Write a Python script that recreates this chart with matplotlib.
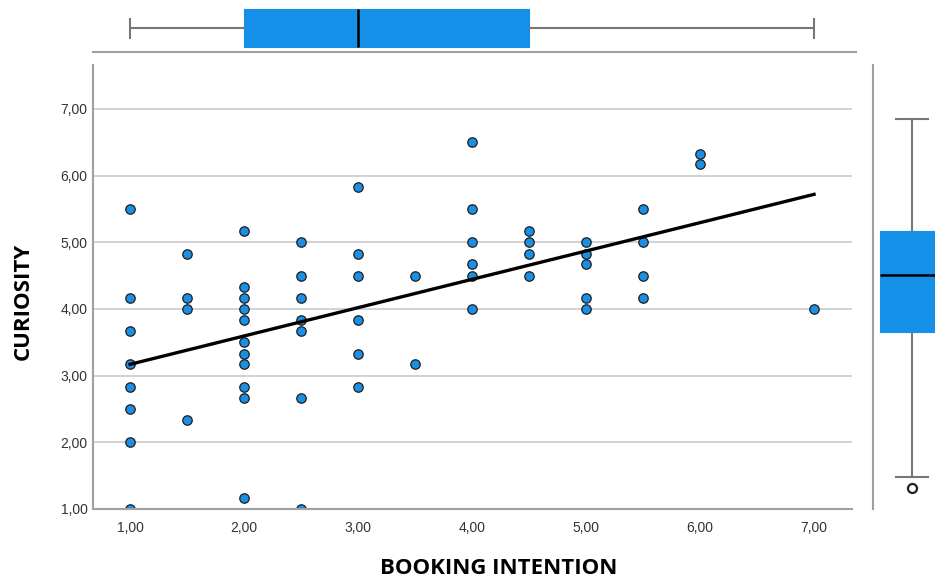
import numpy as np
import matplotlib
matplotlib.use("Agg")
import matplotlib.pyplot as plt

# scatter data: booking intention (x) vs curiosity (y)
booking = [1, 1, 1, 1, 1, 1, 1, 1,
           1.5, 1.5, 1.5, 1.5,
           2, 2, 2, 2, 2, 2, 2, 2, 2, 2, 2,
           2.5, 2.5, 2.5, 2.5, 2.5, 2.5, 2.5,
           3, 3, 3, 3, 3, 3,
           3.5, 3.5,
           4, 4, 4, 4, 4, 4,
           4.5, 4.5, 4.5, 4.5,
           5, 5, 5, 5, 5,
           5.5, 5.5, 5.5, 5.5,
           6, 6,
           7]
curiosity = [5.5, 4.17, 3.67, 3.17, 2.83, 2.5, 2.0, 1.0,
             4.83, 4.17, 4.0, 2.33,
             5.17, 4.33, 4.17, 4.0, 3.83, 3.5, 3.33, 3.17, 2.83, 2.67, 1.17,
             5.0, 4.5, 4.17, 3.83, 3.67, 2.67, 1.0,
             5.83, 4.83, 4.5, 3.83, 3.33, 2.83,
             4.5, 3.17,
             6.5, 5.5, 5.0, 4.67, 4.5, 4.0,
             5.17, 5.0, 4.83, 4.5,
             5.0, 4.83, 4.67, 4.17, 4.0,
             5.5, 5.0, 4.5, 4.17,
             6.33, 6.17,
             4.0]

# fit line end points as drawn
fit_x = [1.0, 7.0]
fit_y = [3.17, 5.72]

# box plot summaries
booking_box = dict(whislo=1.0, q1=2.0, med=3.0, q3=4.5, whishi=7.0, fliers=[])
curiosity_box = dict(whislo=1.17, q1=3.33, med=4.17, q3=4.83, whishi=6.5, fliers=[1.0])

yticks = [1, 2, 3, 4, 5, 6, 7]
xticks = [1, 2, 3, 4, 5, 6, 7]

BLUE = "#1490e8"
GRAY = "#a0a0a0"
W, H = 935, 580


def px(l, b, r, t):
    return [l / W, (H - b) / H, (r - l) / W, (b - t) / H]


fig = plt.figure(figsize=(9.35, 5.8), dpi=100)
fig.patch.set_facecolor("white")

# main scatter
ax = fig.add_axes(px(93, 509, 852, 65))
ax.set_xlim(0.675, 7.333)
ax.set_ylim(1.0, 7.66)
for v in yticks[1:]:
    ax.axhline(v, color="#cfcfcf", lw=1.3, zorder=0)
ax.scatter(booking, curiosity, s=46, facecolor="#1a8fe3", edgecolor="#1e1e1e",
           linewidth=0.9, zorder=3)
ax.plot(fit_x, fit_y, color="black", lw=2.4, zorder=4)
ax.set_xticks(xticks)
ax.set_yticks(yticks)
ax.set_xticklabels(["%d,00" % v for v in xticks])
ax.set_yticklabels(["%d,00" % v for v in yticks])
ax.tick_params(length=0, labelsize=10, labelcolor="#333333")
ax.tick_params(axis="x", pad=9)
ax.tick_params(axis="y", pad=4)
for lab in ax.get_xticklabels() + ax.get_yticklabels():
    lab.set_fontfamily(["Liberation Sans", "DejaVu Sans"])
for s in ["top", "right"]:
    ax.spines[s].set_visible(False)
for s in ["left", "bottom"]:
    ax.spines[s].set_color(GRAY)
    ax.spines[s].set_linewidth(1.5)
    ax.spines[s].set_zorder(5)

fig.text(499 / W, 1 - 568 / H, "BOOKING INTENTION", ha="center", va="center",
         fontsize=16, fontweight="bold", family=["Open Sans", "DejaVu Sans"])
fig.text(23 / W, 1 - 301 / H, "CURIOSITY", ha="center", va="center", rotation=90,
         fontsize=16, fontweight="bold", family=["Open Sans", "DejaVu Sans"])

# top box plot (booking intention)
axt = fig.add_axes(px(93, 52, 856, 0))
axt.set_xlim(0.675, 7.368)
axt.set_ylim(0, 52)
axt.bxp([booking_box], positions=[52 - 28], widths=38, vert=False,
        patch_artist=True, showfliers=False,
        boxprops=dict(facecolor=BLUE, edgecolor=BLUE, linewidth=0.8),
        medianprops=dict(color="black", linewidth=1.8),
        whiskerprops=dict(color="#777777", linewidth=1.5),
        capprops=dict(color="#777777", linewidth=1.5))
axt.set_xticks([])
axt.set_yticks([])
for s in ["top", "right", "left"]:
    axt.spines[s].set_visible(False)
axt.spines["bottom"].set_color(GRAY)
axt.spines["bottom"].set_linewidth(1.5)

# right box plot (curiosity)
axr = fig.add_axes(px(873, 509, 935, 65))
axr.set_xlim(0, 62)
axr.set_ylim(0.687, 7.305)
axr.bxp([curiosity_box], positions=[39], widths=64, patch_artist=True,
        boxprops=dict(facecolor=BLUE, edgecolor=BLUE, linewidth=0.8),
        medianprops=dict(color="black", linewidth=1.8),
        whiskerprops=dict(color="#777777", linewidth=1.5),
        capprops=dict(color="#777777", linewidth=1.5),
        flierprops=dict(marker="o", markersize=6.5, markerfacecolor="white",
                        markeredgecolor="#222222", markeredgewidth=1.6))
axr.set_xticks([])
axr.set_yticks([])
for s in ["top", "right", "bottom"]:
    axr.spines[s].set_visible(False)
axr.spines["left"].set_color(GRAY)
axr.spines["left"].set_linewidth(1.5)

fig.savefig("out.png", dpi=100)
